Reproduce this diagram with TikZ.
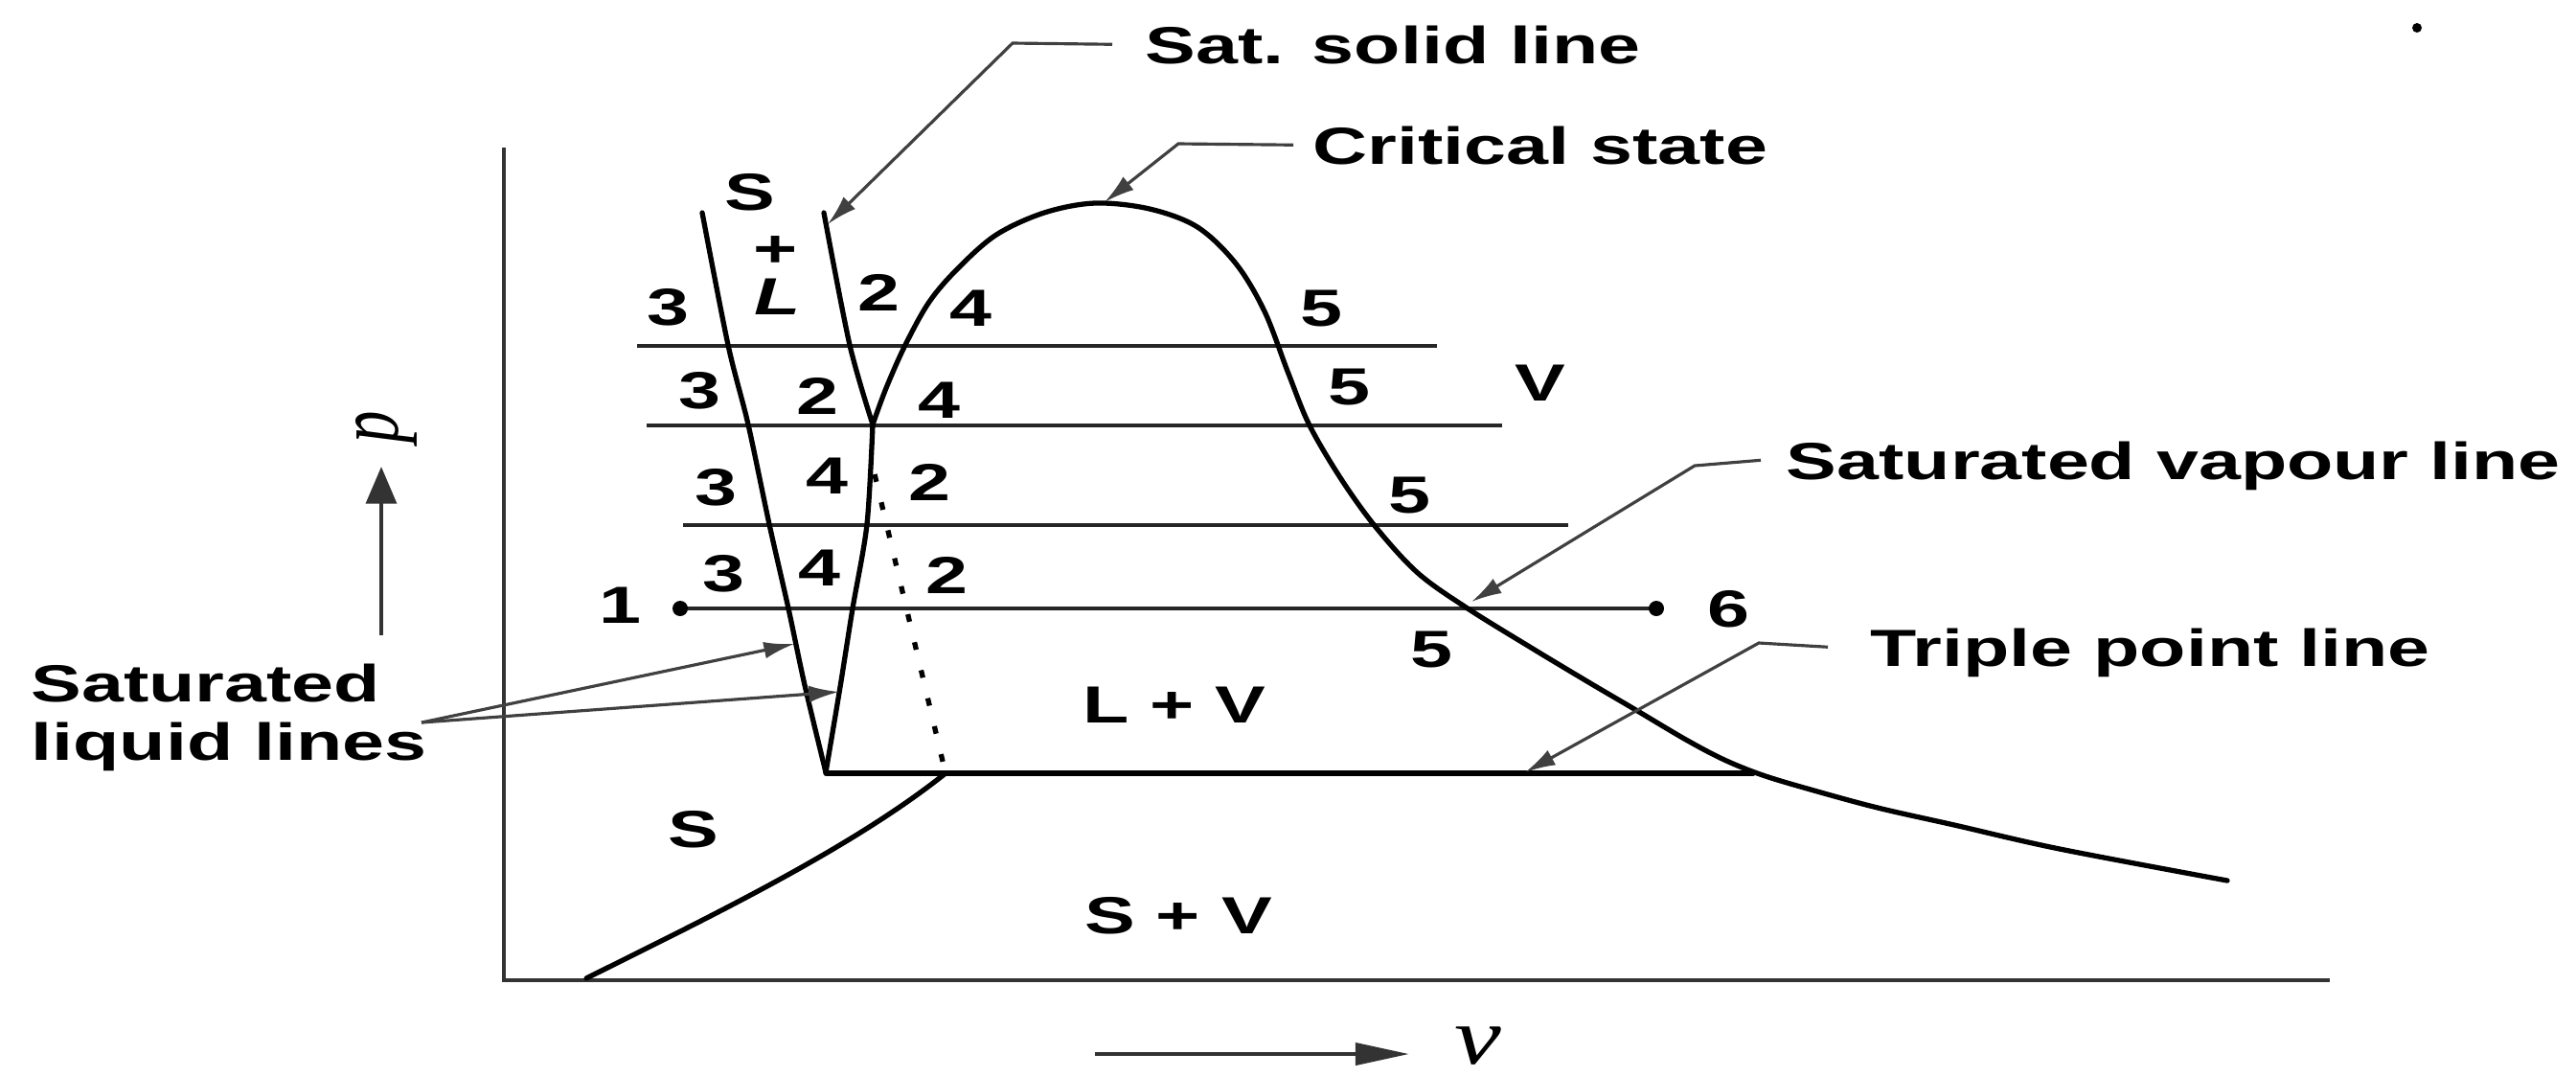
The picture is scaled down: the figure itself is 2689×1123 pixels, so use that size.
\documentclass[tikz,border=0pt]{standalone}
\usepackage{fontspec}
\usepackage{graphicx}
\usetikzlibrary{arrows.meta}
\newfontfamily\lblfont{Liberation Sans}[FakeStretch=1.45]
\newfontfamily\axfont{Liberation Serif}[FakeStretch=1.3]
\newfontfamily\pfont{Liberation Serif}
\tikzset{
  lbl/.style={font=\lblfont\bfseries\fontsize{15.5}{17.5}\selectfont, inner sep=0pt, text depth=0pt},
  curve/.style={line width=1.5pt, line join=round, line cap=round},
  pline/.style={line width=1.3pt, black!85},
  axisln/.style={line width=1.3pt, black!80},
  leader/.style={line width=0.9pt, black!75},
  tip/.style={-{Latex[length=9pt,width=5pt]}},
}
\begin{document}
\begin{tikzpicture}[x=0.01cm,y=-0.01cm]
\useasboundingbox (0,0) rectangle (2689,1123);
\fill[white] (0,0) rectangle (2689,1123);

% axes
\draw[axisln] (526,154) -- (526,1023) -- (2432,1023);

% constant pressure lines
\draw[pline] (665,361) -- (1500,361);
\draw[pline] (675,444) -- (1568,444);
\draw[pline] (713,548) -- (1637,548);
\coordinate (pt1) at (710,635);
\coordinate (pt6) at (1729,635);
\draw[pline] (pt1) -- (pt6);
\fill (pt1) circle[radius=0.08cm];
\fill (pt6) circle[radius=0.08cm];

% solid-liquid lines
\draw[curve] plot[smooth, tension=0.5] coordinates {(733,222) (760,360) (781,443) (803,547) (823,635) (840,715) (862,806)};
\draw[curve] plot[smooth, tension=0.5] coordinates {(860,222) (887,360) (911,443)};
\draw[curve] plot[smooth, tension=0.5] coordinates {(911,443) (905,547) (890,635) (877,717) (862,806)};

% saturation dome
\draw[curve] plot[smooth, tension=0.55] coordinates {(911,443) (925,405) (945,360) (970,315) (1000,280) (1040,245) (1090,222) (1143,212) (1200,218) (1250,237) (1290,275) (1320,325) (1345,390) (1367,444) (1400,500) (1436,550) (1480,598) (1532,635) (1600,677) (1660,713) (1706,740) (1760,772) (1800,793) (1840,809) (1890,824) (1960,843) (2040,861) (2150,886) (2325,919)};

% triple point line
\draw[curve] (862,807) -- (1830,807);
% sublimation curve
\draw[curve] (987,807) .. controls (887,887) and (732,961) .. (612,1021);
% dotted extension
\draw[line width=1.5pt, dash pattern=on 0.08cm off 0.22cm] (913,495) -- (987,807);

% numbers on pressure lines
\node[lbl] (a3) at (697,320) {3};
\node[lbl] (a2) at (917,305) {2};
\node[lbl] (a4) at (1013,322) {4};
\node[lbl] (a5) at (1379,322) {5};
\node[lbl] (b3) at (730,407) {3};
\node[lbl] (b2) at (853,413) {2};
\node[lbl] (b4) at (980,418) {4};
\node[lbl] (b5) at (1408,404) {5};
\node[lbl] (c3) at (747,508) {3};
\node[lbl] (c4) at (863,497) {4};
\node[lbl] (c2) at (970,503) {2};
\node[lbl] (c5) at (1471,517) {5};
\node[lbl] (d1) at (647,632) {1};
\node[lbl] (d3) at (755,598) {3};
\node[lbl] (d4) at (855,593) {4};
\node[lbl] (d2) at (988,600) {2};
\node[lbl] (d5) at (1494,678) {5};
\node[lbl] (d6) at (1804,635) {6};

% region labels
\node[lbl] (rS) at (783,200) {S};
\node[lbl] (rplus) at (810,262) {+};
\node[lbl] (rL) at (812,310) {\itshape L};
\node[lbl] (rV) at (1608,400) {V};
\node[lbl] (rLV) at (1226,736) {L + V};
\node[lbl] (rSV) at (1230,955) {S + V};
\node[lbl] (rS2) at (724,865) {S};

% annotations with leaders
\node[lbl, anchor=base west] (satlbl) at (1195,66) {Sat. solid line};
\coordinate (satK) at (1057,45);
\coordinate (satT) at (864,234);
\draw[leader, tip] ([xshift=-0.34cm]satlbl.west) -- (satK) -- (satT);

\node[lbl, anchor=base west] (critlbl) at (1370,171) {Critical state};
\coordinate (critK) at (1230,150);
\coordinate (critT) at (1153,211);
\draw[leader, tip] ([xshift=-0.2cm]critlbl.west) -- (critK) -- (critT);

\node[lbl, anchor=base west] (vaplbl) at (1864,500) {Saturated vapour line};
\coordinate (vapK) at (1769,486);
\coordinate (vapT) at (1536,628);
\draw[leader, tip] ([xshift=-0.26cm]vaplbl.west) -- (vapK) -- (vapT);

\node[lbl, anchor=base west] (triplbl) at (1952,695) {Triple point line};
\coordinate (tripK) at (1836,671);
\coordinate (tripT) at (1592,806);
\draw[leader, tip] ([xshift=-0.44cm]triplbl.west) -- (tripK) -- (tripT);

\node[lbl, align=left, anchor=north west] (liq) at (32,692) {Saturated\\liquid lines};
\coordinate (liqS) at (440,754);
\coordinate (liqT1) at (829,672);
\coordinate (liqT2) at (876,722);
\draw[leader, tip] (liqS) -- (liqT1);
\draw[leader, tip] (liqS) -- (liqT2);

% axis labels
\coordinate (pA0) at (398,663);
\coordinate (pA1) at (398,487);
\draw[axisln, -{Triangle[length=11pt,width=9pt]}] (pA0) -- (pA1);
\node[inner sep=0pt] (plbl) at (403,446) {\rotatebox{90}{\scalebox{1}[1.4]{\pfont\itshape\fontsize{19}{19}\selectfont p}}};

\coordinate (vA0) at (1143,1100);
\coordinate (vA1) at (1471,1100);
\draw[axisln, -{Triangle[length=16pt,width=6.5pt]}] (vA0) -- (vA1);
\node[inner sep=0pt, anchor=base] (vlbl) at (1543,1110) {\axfont\itshape\fontsize{24}{24}\selectfont v};

% stray mark
\fill (2523,29) circle[radius=0.05cm];
\end{tikzpicture}
\end{document}
